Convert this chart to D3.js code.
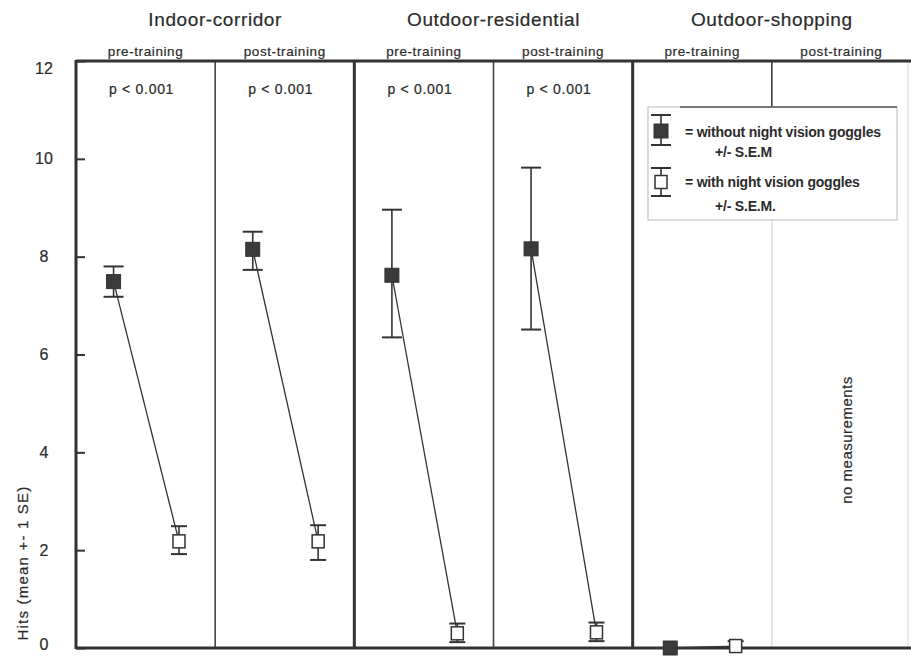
<!DOCTYPE html>
<html>
<head>
<meta charset="utf-8">
<script src="https://cdn.jsdelivr.net/npm/d3@7"></script>
<style>
  body { margin: 0; background: #fff; }
  text { font-family: "Liberation Sans", Arial, sans-serif; fill: #2b2b2b; stroke: #2b2b2b; stroke-width: 0.2px; }
</style>
</head>
<body>
<script>
// values (hits, mean +- 1 SE)
const conditions = ["Indoor-corridor", "Outdoor-residential", "Outdoor-shopping"];
const phases = ["pre-training", "post-training"];
const pLabels = ["p < 0.001", "p < 0.001", "p < 0.001", "p < 0.001", "", ""];

const withoutMean = [7.49, 8.15, 7.62, 8.16, 0];
const withoutHi   = [7.80, 8.51, 8.96, 9.82, 0];
const withoutLo   = [7.18, 7.73, 6.35, 6.51, 0];

const withMean = [2.18, 2.18, 0.30, 0.32, 0.04];
const withHi   = [2.49, 2.51, 0.50, 0.52, 0.14];
const withLo   = [1.92, 1.80, 0.12, 0.14, 0];

const yTicks = [0, 2, 4, 6, 8, 10, 12];

const W = 911, H = 656;
const dark = "#333";

const svg = d3.select("body").append("svg")
    .attr("width", W)
    .attr("height", H);

const panelKeys = conditions.flatMap(c => phases.map(p => c + "|" + p));

const x = d3.scaleBand().domain(panelKeys).range([76, 911]);
const bw = x.bandwidth();
const inner = d3.scalePoint().domain(["without", "with"]).range([0.27 * bw, 0.74 * bw]);
const y = d3.scaleLinear().domain([0, 12]).range([648, 61]);

const x0 = x.range()[0], x1 = x.range()[1];

// panel dividers
panelKeys.forEach((k, i) => {
    if (i === 0) return;
    const xx = x(k);
    const major = i % 2 === 0;
    if (i === 5) {
        // shopping pre/post divider: dark above the legend, faint below
        svg.append("line").attr("x1", xx).attr("x2", xx).attr("y1", y(12)).attr("y2", 107)
            .attr("stroke", dark).attr("stroke-width", 1.5);
        svg.append("line").attr("x1", xx).attr("x2", xx).attr("y1", 220).attr("y2", y(0))
            .attr("stroke", "#ddd").attr("stroke-width", 1.5);
        return;
    }
    svg.append("line")
        .attr("x1", xx).attr("x2", xx)
        .attr("y1", y(12)).attr("y2", y(0))
        .attr("stroke", major ? dark : "#444")
        .attr("stroke-width", major ? 3 : 1.6);
});

// faint right edge
svg.append("line").attr("x1", 908).attr("x2", 908).attr("y1", y(12)).attr("y2", y(0))
    .attr("stroke", "#e4e4e4").attr("stroke-width", 1.5);

// frame: left axis, top and bottom
svg.append("line").attr("x1", x0).attr("x2", x0).attr("y1", y(12) - 1).attr("y2", y(0) + 1)
    .attr("stroke", dark).attr("stroke-width", 3);
svg.append("line").attr("x1", x0).attr("x2", x1).attr("y1", y(12)).attr("y2", y(12))
    .attr("stroke", dark).attr("stroke-width", 3);
svg.append("line").attr("x1", x0).attr("x2", x1).attr("y1", y(0)).attr("y2", y(0))
    .attr("stroke", dark).attr("stroke-width", 3);

// y axis ticks + labels
const yAxis = svg.append("g")
    .attr("transform", `translate(${x0},0)`)
    .call(d3.axisLeft(y).tickValues(yTicks).tickSize(-9).tickSizeOuter(0).tickPadding(32));
yAxis.select(".domain").remove();
yAxis.selectAll(".tick line").attr("stroke", dark).attr("stroke-width", 2);
yAxis.selectAll(".tick text")
    .attr("text-anchor", "middle")
    .attr("dy", d => d === 12 ? "0.75em" : d === 0 ? "0.1em" : "0.32em")
    .style("font-family", "'Liberation Sans', Arial, sans-serif")
    .style("font-size", "16px")
    .style("fill", "#2b2b2b");

svg.append("text")
    .attr("transform", "translate(28,563) rotate(-90)")
    .attr("text-anchor", "middle")
    .style("font-size", "15px")
    .style("letter-spacing", "1.2px")
    .text("Hits (mean +- 1 SE)");

// headers
conditions.forEach(c => {
    svg.append("text")
        .attr("x", x(c + "|" + phases[0]) + bw)
        .attr("y", 26)
        .attr("text-anchor", "middle")
        .style("font-size", "19px")
        .style("letter-spacing", "0.6px")
        .text(c);
});

panelKeys.forEach((k, i) => {
    svg.append("text")
        .attr("x", x(k) + bw / 2)
        .attr("y", 56)
        .attr("text-anchor", "middle")
        .style("font-size", "13.5px")
        .style("letter-spacing", "0.6px")
        .text(k.split("|")[1]);
    if (pLabels[i]) {
        svg.append("text")
            .attr("x", x(k) + bw / 2 - 4)
            .attr("y", 94)
            .attr("text-anchor", "middle")
            .style("font-size", "14px")
            .style("letter-spacing", "0.7px")
            .text(pLabels[i]);
    }
});

// marker with error bar
function marker(g, cx, cyMean, cyHi, cyLo, filled, capW) {
    g.append("line").attr("x1", cx).attr("x2", cx).attr("y1", cyHi).attr("y2", cyLo)
        .attr("stroke", dark).attr("stroke-width", 1.6);
    [cyHi, cyLo].forEach(cy => {
        g.append("line").attr("x1", cx - capW / 2).attr("x2", cx + capW / 2)
            .attr("y1", cy).attr("y2", cy)
            .attr("stroke", dark).attr("stroke-width", 2);
    });
    const w = filled ? 14 : 12, h = filled ? 14 : 13;
    g.append("rect")
        .attr("x", cx - w / 2).attr("y", cyMean - h / 2)
        .attr("width", w).attr("height", h)
        .attr("fill", filled ? "#3a3a3a" : "#fff")
        .attr("stroke", dark).attr("stroke-width", filled ? 1 : 1.5);
}

const dataG = svg.append("g");
withoutMean.forEach((m, i) => {
    const k = panelKeys[i];
    const xa = x(k) + inner("without"), xb = x(k) + inner("with");
    dataG.append("line")
        .attr("x1", xa).attr("y1", y(m))
        .attr("x2", xb).attr("y2", y(withMean[i]))
        .attr("stroke", dark).attr("stroke-width", 1.3);
    marker(dataG, xa, y(m), y(withoutHi[i]), y(withoutLo[i]), true, 20);
    marker(dataG, xb, y(withMean[i]), y(withHi[i]), y(withLo[i]), false, 16);
});

// legend
const lg = svg.append("g");
lg.append("rect").attr("x", 648).attr("y", 107).attr("width", 249).attr("height", 113)
    .attr("fill", "#fff").attr("stroke", "#bbb").attr("stroke-width", 1);
lg.append("line").attr("x1", 680).attr("x2", 897).attr("y1", 107).attr("y2", 107)
    .attr("stroke", "#555").attr("stroke-width", 1.5);
marker(lg, 661, 131, 115, 145, true, 20);
marker(lg, 661, 182, 168, 196, false, 20);
const legendText = [
    ["= without night vision goggles", 685, 137],
    ["+/- S.E.M", 715, 157],
    ["= with night vision goggles", 685, 187],
    ["+/- S.E.M.", 715, 211]
];
legendText.forEach(([t, lx, ly]) => {
    lg.append("text").attr("x", lx).attr("y", ly)
        .style("font-size", "14px")
        .style("font-weight", "bold")
        .style("stroke-width", "0")
        .style("letter-spacing", "-0.2px")
        .text(t);
});

svg.append("text")
    .attr("transform", "translate(852,440) rotate(-90)")
    .attr("text-anchor", "middle")
    .style("font-size", "15px")
    .style("letter-spacing", "0.5px")
    .text("no measurements");
</script>
</body>
</html>
